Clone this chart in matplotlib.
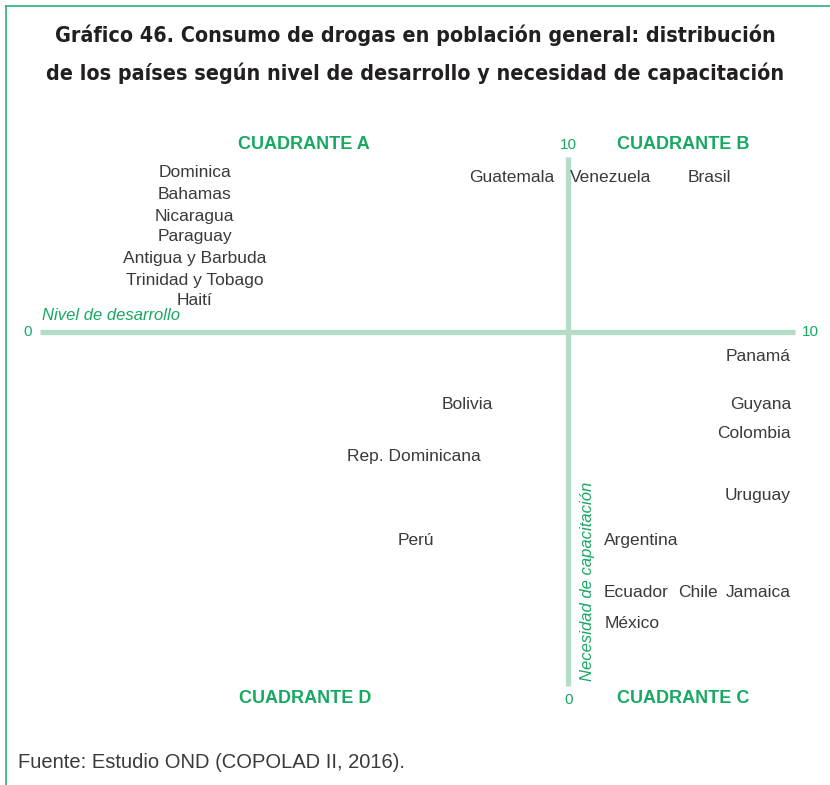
import matplotlib
matplotlib.use('Agg')
import matplotlib.pyplot as plt
from matplotlib.lines import Line2D

# country labels placed on the 0-10 grid (development x, training need y)
countries = ['Dominica', 'Bahamas', 'Nicaragua', 'Paraguay', 'Antigua y Barbuda',
             'Trinidad y Tobago', 'Haití',
             'Guatemala', 'Venezuela', 'Brasil',
             'Panamá', 'Guyana', 'Colombia', 'Uruguay',
             'Bolivia', 'Rep. Dominicana', 'Perú',
             'Argentina', 'Ecuador', 'Chile', 'Jamaica', 'México']
dev_x = [2.05, 2.05, 2.05, 2.05, 2.05, 2.05, 2.05,
         6.25, 7.56, 8.86,
         9.51, 9.55, 9.46, 9.51,
         5.66, 4.95, 4.98,
         7.96, 7.89, 8.72, 9.52, 7.84]
need_y = [9.70, 9.30, 8.88, 8.49, 8.09, 7.67, 7.28,
          9.62, 9.62, 9.62,
          6.22, 5.33, 4.78, 3.61,
          5.33, 4.33, 2.76,
          2.76, 1.76, 1.76, 1.76, 1.19]

x_cross = 7.0
y_cross = 6.7

quadrants = ['CUADRANTE A', 'CUADRANTE B', 'CUADRANTE C', 'CUADRANTE D']
quad_x = [3.5, 8.52, 8.52, 3.51]
quad_y = [10.23, 10.23, -0.23, -0.23]

GREEN = '#17a862'
AXIS = '#b4dcc7'
BORDER = '#22b573'
DARK = '#3a3a3a'

plt.rcParams['font.family'] = ['Liberation Sans', 'DejaVu Sans']

fig = plt.figure(figsize=(8.3, 7.85), dpi=100)
ax = fig.add_axes([0.0482, 0.1261, 0.9096, 0.6739])
ax.set_xlim(0, 10)
ax.set_ylim(0, 10)
ax.axis('off')

# axes of the quadrant diagram
ax.plot([0, 10], [y_cross, y_cross], color=AXIS, lw=3.8, solid_capstyle='butt', clip_on=False)
ax.plot([x_cross, x_cross], [0, 10], color=AXIS, lw=3.8, solid_capstyle='butt', clip_on=False)

ax.text(-0.16, y_cross, '0', color=GREEN, fontsize=11, ha='center', va='center')
ax.text(10.2, y_cross, '10', color=GREEN, fontsize=11, ha='center', va='center')
ax.text(x_cross, 10.23, '10', color=GREEN, fontsize=11, ha='center', va='center')
ax.text(x_cross, -0.26, '0', color=GREEN, fontsize=11, ha='center', va='center')

ax.text(0.03, 7.01, 'Nivel de desarrollo', color=GREEN, fontsize=12, style='italic',
        ha='left', va='center')
ax.text(7.25, 1.98, 'Necesidad de capacitación', color=GREEN, fontsize=12, style='italic',
        rotation=90, ha='center', va='center')

for name, qx, qy in zip(quadrants, quad_x, quad_y):
    ax.text(qx, qy, name, color=GREEN, fontsize=13, fontweight='bold',
            ha='center', va='center', clip_on=False)

for name, cx, cy in zip(countries, dev_x, need_y):
    ax.text(cx, cy, name, color=DARK, fontsize=12.5, ha='center', va='center')

# title and source
title_kw = dict(ha='center', va='center', fontsize=15.4, fontweight='bold', color='#231f20',
                family=['DejaVu Sans'], fontstretch='condensed')
fig.text(0.5, 1 - 35 / 785, 'Gráfico 46. Consumo de drogas en población general: distribución',
         **title_kw)
fig.text(0.5, 1 - 73 / 785, 'de los países según nivel de desarrollo y necesidad de capacitación',
         **title_kw)
fig.text(18 / 830, 1 - 762 / 785, 'Fuente: Estudio OND (COPOLAD II, 2016).',
         ha='left', va='center', fontsize=14.5, color=DARK)

# frame: top and left edges only
fig.add_artist(Line2D([6 / 830, 1], [1 - 6 / 785, 1 - 6 / 785], color=BORDER, lw=1.2))
fig.add_artist(Line2D([6 / 830, 6 / 830], [0, 1 - 6 / 785], color=BORDER, lw=1.2))

fig.savefig('out.png', dpi=100)
